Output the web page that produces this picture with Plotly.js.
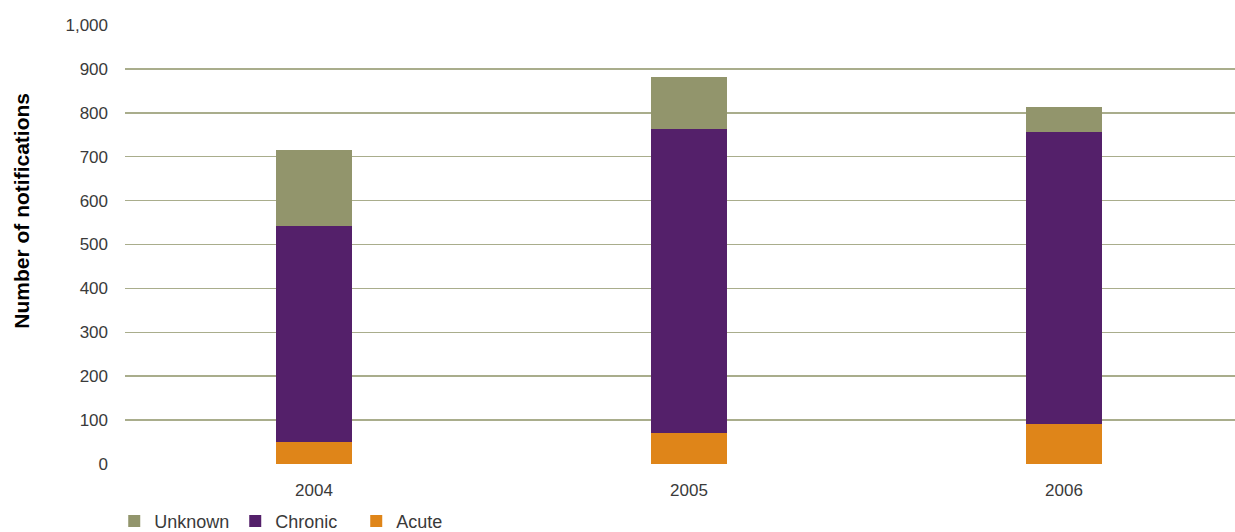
<!DOCTYPE html>
<html>
<head>
<meta charset="utf-8">
<script src="https://cdn.plot.ly/plotly-3.0.1.min.js"></script>
<style>
html,body{margin:0;padding:0;background:#fff;}
#chart{width:1235px;height:532px;}
</style>
</head>
<body>
<div id="chart"></div>
<script>
const years = ['2004', '2005', '2006'];
const acute = [51, 71, 92];
const chronic = [492, 693, 665];
const unknown = [173, 118, 57];
const yTicks = [0, 100, 200, 300, 400, 500, 600, 700, 800, 900, 1000];
const yTitle = 'Number of notifications';

const colors = {Acute: '#df8519', Chronic: '#54206a', Unknown: '#92956c'};
const font = {family: 'Liberation Sans, Arial, sans-serif', size: 17, color: '#3a3a3a'};

function bar(name, vals) {
  return {type: 'bar', name: name, x: years, y: vals, width: 0.203,
    marker: {color: colors[name], line: {width: 0}}, hoverinfo: 'x+y+name'};
}

const data = [bar('Acute', acute), bar('Chronic', chronic), bar('Unknown', unknown)];

const layout = {
  width: 1235, height: 532,
  margin: {l: 125, r: 0, t: 25, b: 68, autoexpand: false},
  barmode: 'stack',
  paper_bgcolor: '#ffffff', plot_bgcolor: '#ffffff',
  font: font,
  showlegend: true,
  legend: {orientation: 'h', xref: 'container', yref: 'container',
    x: 0.0925, xanchor: 'left', y: 0.055, yanchor: 'top',
    traceorder: 'reversed', font: {family: font.family, size: 18, color: '#3a3a3a'},
    itemwidth: 30, entrywidth: 76, entrywidthmode: 'pixels', bgcolor: 'rgba(0,0,0,0)'},
  xaxis: {type: 'category', range: [-0.504, 2.456], showgrid: false, zeroline: false,
    showline: false, ticks: '', ticklabelstandoff: 14, tickfont: font, fixedrange: true,
    automargin: false},
  yaxis: {range: [0, 1000], tickvals: yTicks, tickformat: ',d', showgrid: true,
    gridcolor: '#a9ad8c', gridwidth: 1.5, zeroline: false, showline: false, ticks: '',
    ticklabelstandoff: 16, tickfont: font, fixedrange: true, automargin: false},
  annotations: [{text: yTitle, textangle: -90, showarrow: false,
    xref: 'paper', yref: 'paper', x: -0.0932, y: 0.576, xanchor: 'center', yanchor: 'middle',
    font: {family: font.family, size: 21, color: '#000000', weight: 'bold'}}]
};

Plotly.newPlot('chart', data, layout, {displayModeBar: false, staticPlot: true});
</script>
</body>
</html>
